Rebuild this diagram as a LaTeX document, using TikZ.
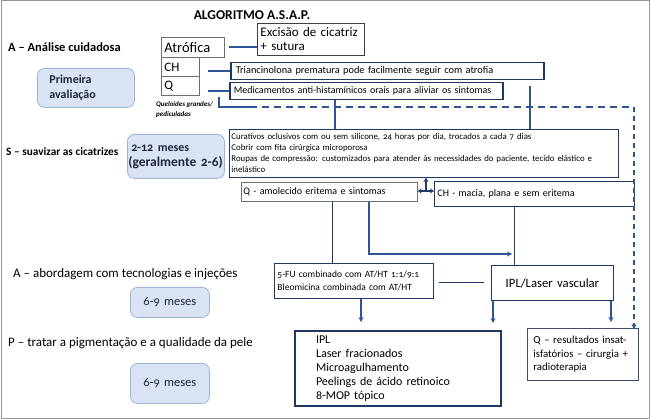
\documentclass[tikz,border=0pt]{standalone}
\usepackage{fontspec}
\setmainfont{Carlito}[Numbers=OldStyle]
\usetikzlibrary{arrows.meta}
\definecolor{navy}{RGB}{32,56,100}
\definecolor{lblue}{RGB}{47,85,151}
\definecolor{rfill}{RGB}{218,227,243}
\definecolor{redge}{RGB}{160,180,215}
\definecolor{dtext}{RGB}{30,38,60}
\definecolor{gbord}{RGB}{110,110,110}
\definecolor{framec}{RGB}{150,150,150}
\newcommand{\fs}[2]{\fontsize{#1}{#2}\selectfont}
\begin{document}
\begin{tikzpicture}[x=1pt,y=-1pt,
 bx/.style={anchor=north west, inner xsep=3pt, inner ysep=0pt, align=left, fill=white},
 gbox/.style={bx, draw=gbord, line width=0.7pt},
 nbox/.style={bx, draw=navy, line width=0.9pt},
 tbox/.style={bx, draw=navy, line width=1.5pt},
 rbox/.style={anchor=north west, rounded corners=7pt, fill=rfill, draw=redge, line width=0.8pt, text=dtext, inner ysep=0pt, align=left},
 conn/.style={draw=lblue, line width=1.8pt},
 thinconn/.style={draw=navy, line width=0.9pt},
 tip/.style={-{Stealth[length=5pt,width=5pt]}},
 lbl/.style={anchor=west, inner sep=0pt},
]
\useasboundingbox (0,0) rectangle (650,419);
\draw[framec, line width=1pt] (1,1) rectangle (649,418);

% title and left labels
\node[font=\bfseries\fs{13.5}{15}] (title) at (252,15) {ALGORITMO A.S.A.P.};
\node[lbl, font=\bfseries\fs{12.5}{14}] (la) at (8,47) {A -- Análise cuidadosa};
\node[lbl, font=\bfseries\fs{11.3}{13}] (ls) at (6,152) {S -- suavizar as cicatrizes};
\node[lbl, font=\fs{13}{15}] (la2) at (13,274) {A -- abordagem com tecnologias e injeções};
\node[lbl, font=\fs{13}{15}] (lp) at (8,343) {P -- tratar a pigmentação e a qualidade da pele};

% rounded boxes
\node[rbox, inner xsep=12pt, minimum width=97pt, minimum height=39pt, text width=73pt, font=\bfseries\fs{12}{14.5}] (prim) at (37,68) {Primeira\\avaliação};
\node[rbox, inner xsep=1pt, minimum width=97pt, minimum height=44pt, text width=95pt, font=\bfseries\fs{13.5}{15}] (sbox) at (127,134) {\hspace*{3pt}{\fs{12}{15}2-12 meses}\\(geralmente 2-6)};
\node[rbox, align=center, inner xsep=0pt, minimum width=79pt, minimum height=30pt, text width=79pt, font=\fs{12.5}{14}] (ra) at (130,287) {6-9 meses};
\node[rbox, align=center, inner xsep=0pt, minimum width=79pt, minimum height=40pt, text width=79pt, font=\fs{12.5}{14}] (rb) at (130,363) {6-9 meses};

% A boxes
\node[gbox, minimum width=63pt, minimum height=20pt, text width=57pt, font=\fs{14.5}{15}] (atrof) at (161,37) {Atrófica};
\node[gbox, minimum width=38pt, minimum height=19pt, text width=32pt, font=\fs{13}{14}] (ch) at (161,57) {CH};
\node[gbox, minimum width=38pt, minimum height=19pt, text width=32pt, font=\fs{13}{14}] (q) at (161,76) {Q};
\node[anchor=north west, inner sep=0pt, align=left, font=\bfseries\itshape\fs{7}{10}] (quel) at (156,101) {Queloides grandes/\\pediculadas};
\node[gbox, draw=black!75, line width=0.9pt, minimum width=107pt, minimum height=32pt, text width=101pt, font=\fs{13}{14}] (exc) at (257,23) {Excisão de cicatriz\\+ sutura};
\node[tbox, inner xsep=5pt, minimum width=313pt, minimum height=17pt, text width=303pt, font=\fs{10.3}{12}] (trian) at (230,62) {Triancinolona prematura pode facilmente seguir com atrofia};
\node[tbox, inner xsep=4pt, minimum width=273pt, minimum height=17pt, text width=265pt, font=\fs{10}{12}] (med) at (229,82) {Medicamentos anti-histamínicos orais para aliviar os sintomas};

% S boxes
\node[nbox, inner xsep=2pt, minimum width=389pt, minimum height=48pt, text width=385pt, font=\fs{8.8}{11}] (cur) at (229,129) {Curativos oclusivos com ou sem silicone, 24 horas por dia, trocados a cada 7 dias\\Cobrir com fita cirúrgica microporosa\\Roupas de compressão: customizados para atender às necessidades do paciente, tecido elástico e\\inelástico};
\node[gbox, inner xsep=2pt, minimum width=176pt, minimum height=19pt, text width=172pt, font=\fs{10}{12}] (qam) at (241,182) {Q - amolecido eritema e sintomas};
\node[nbox, minimum width=200pt, minimum height=25pt, text width=194pt, font=\fs{10}{12}] (chm) at (434,181) {CH - macia, plana e sem eritema};

% A2 boxes
\node[nbox, minimum width=159pt, minimum height=35pt, text width=153pt, font=\fs{9.5}{12.5}] (fu) at (274,263) {5-FU combinado com AT/HT 1:1/9:1\\Bleomicina combinada com AT/HT};
\node[nbox, align=center, minimum width=122pt, minimum height=35pt, text width=116pt, font=\fs{12.7}{14}] (ipl) at (491,265) {IPL/Laser vascular};

% P boxes
\node[bx, draw=navy, line width=2pt, inner xsep=0pt, minimum width=206pt, minimum height=75pt, text width=206pt, font=\fs{12}{14}] (list) at (294,330) {\hspace*{21pt}\parbox[t]{182pt}{IPL\\Laser fracionados\\Microagulhamento\\Peelings de ácido retinoico\\8-MOP tópico}};
\node[gbox, draw=navy!70!gray, line width=0.8pt, inner xsep=6pt, minimum width=111pt, minimum height=52pt, text width=99pt, font=\fs{10.8}{13.5}] (qres) at (527,328) {Q -- resultados insat-\\isfatórios -- cirurgia +\\radioterapia};

% helper coordinates
\coordinate (qs) at (219,97);
\coordinate (qk) at (219,107);
\coordinate (qd) at (250,107);
\coordinate (dc) at (634,107);
\coordinate (c1) at (335,0);
\coordinate (c2) at (530,0);
\coordinate (tj) at (426,191);
\coordinate (c3) at (332,0);
\coordinate (c4) at (369,0);
\coordinate (j2) at (512,254);
\coordinate (c5) at (514,0);
\coordinate (c6) at (361,0);
\coordinate (c7) at (493,0);
\coordinate (c8) at (611,0);

% connectors
\draw[conn, shorten <=4pt] (atrof.east) -- (atrof.east -| exc.west);
\draw[conn, shorten <=8pt] (ch.east |- trian.west) -- (trian.west);
\draw[conn, shorten <=8pt] (q.east |- med.west) -- (med.west);
\draw[conn] (qs) -- (qk) -- (qd);
\draw[conn, line width=1.5pt, dash pattern=on 7pt off 5pt] (qd) -- (dc);
\draw[conn, line width=1.5pt, dash pattern=on 5pt off 4pt, -{Stealth[length=5pt,width=5pt]}] (dc) -- ([yshift=-1pt]dc |- qres.north);
\draw[conn] (med.south -| c1) -- (cur.north -| c1);
\draw[conn, shorten <=6pt] (trian.south -| c2) -- (cur.north -| c2);
\draw[thinconn, line width=1.2pt, -{Stealth[length=4pt,width=5pt]}] (tj) -- (tj |- cur.south);
\draw[thinconn, line width=1.2pt, {Stealth[length=4pt,width=5pt]}-{Stealth[length=4pt,width=5pt]}] (qam.east |- tj) -- (chm.west |- tj);
\draw[thinconn] (qam.south -| c3) -- (fu.north -| c3);
\draw[conn, -{Stealth[length=5pt,width=5pt]}] (qam.south -| c4) |- (j2);
\draw[thinconn] (chm.south -| c5) -- (ipl.north -| c5);
\draw[thinconn, shorten <=5pt, shorten >=7pt] (fu.east |- ipl.west) -- (ipl.west);
\draw[conn, tip, shorten >=8pt] (fu.south -| c6) -- (list.north -| c6);
\draw[conn, tip, shorten >=7pt] (ipl.south -| c7) -- (list.north -| c7);
\draw[conn, tip, shorten >=6pt] (ipl.south -| c8) -- (qres.north -| c8);
\end{tikzpicture}
\end{document}
